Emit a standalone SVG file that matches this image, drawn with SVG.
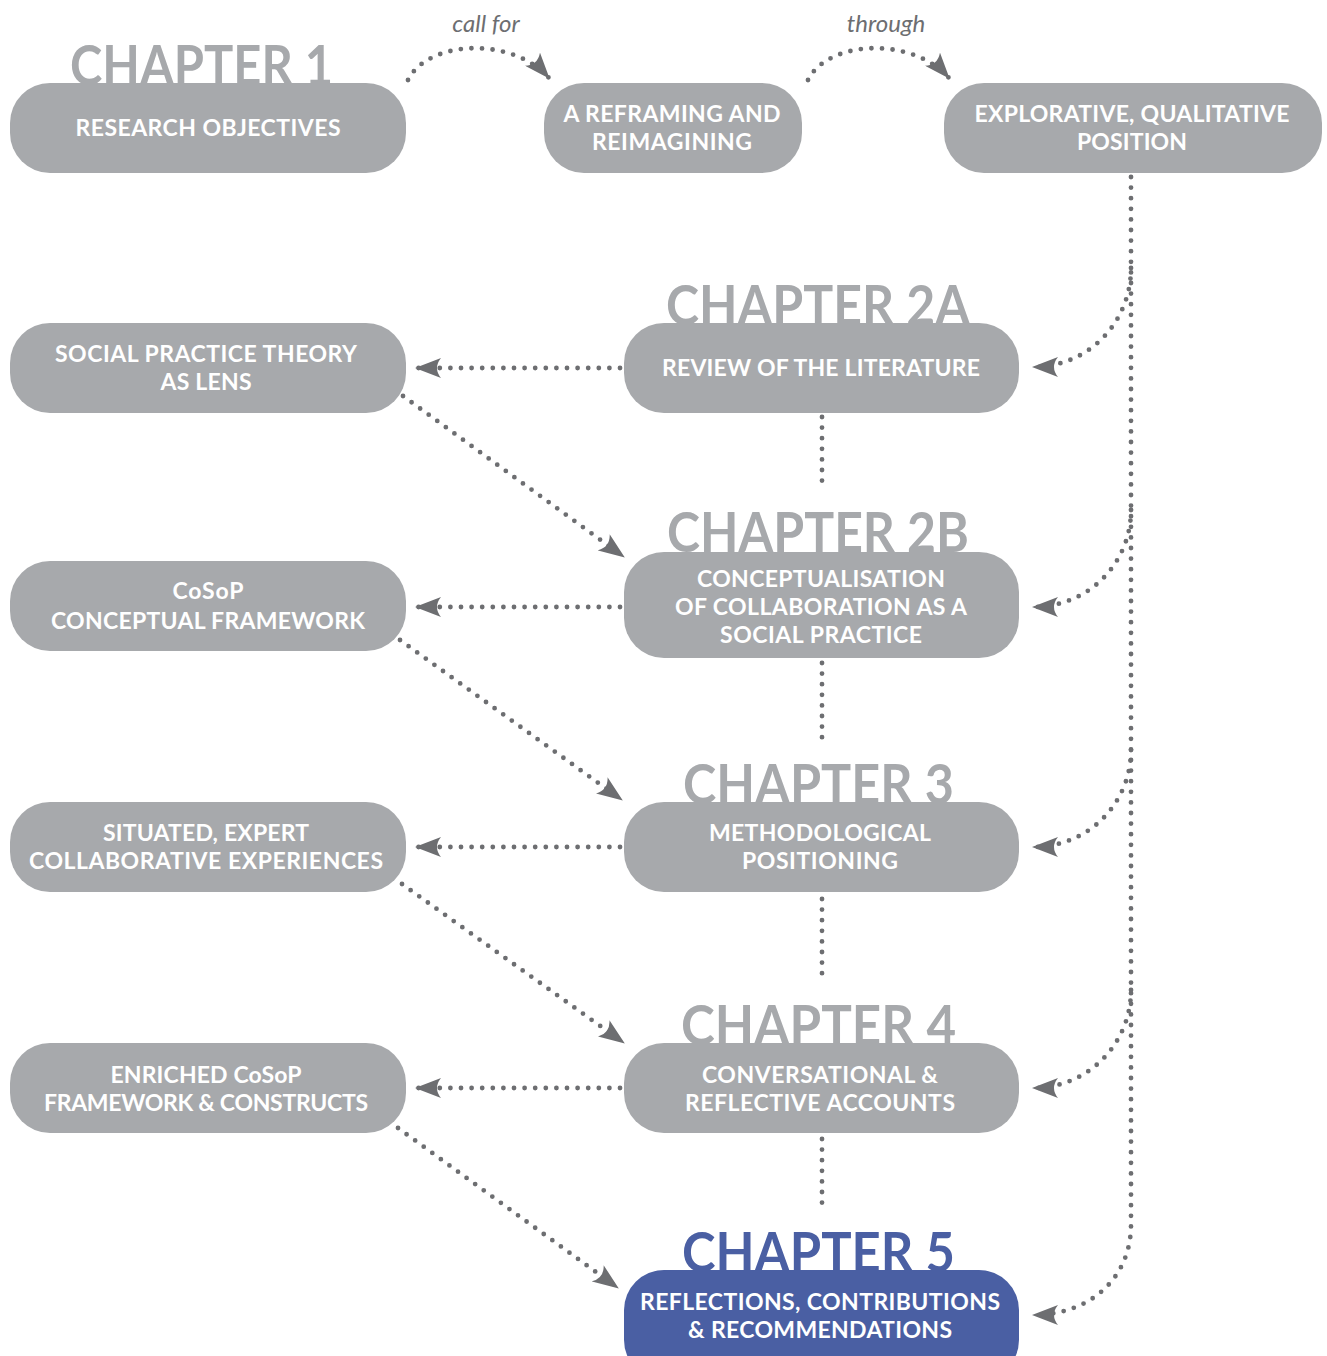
<svg xmlns="http://www.w3.org/2000/svg" width="1327" height="1356" viewBox="0 0 1327 1356">
  <defs>
    <marker id="head" markerUnits="userSpaceOnUse" viewBox="0 0 26 20" refX="25" refY="10" markerWidth="26" markerHeight="20" orient="auto">
      <path d="M0,0 L26,10 L0,20 Q8,10 0,0 Z" fill="#6d6e71"/>
    </marker>
    <style>
      .box { fill: #a7a9ac; }
      .box.final { fill: #4a5fa3; }
      .lbl { font-family: Lato, "Open Sans", sans-serif; font-weight: 700; font-size: 23px; fill: #ffffff; text-anchor: middle; }
      .chap { font-family: Lato, "Open Sans", sans-serif; font-weight: 700; font-size: 56px; fill: #a7a9ac; text-anchor: start; }
      .chap.final { fill: #4a5fa3; }
      .note { font-family: Lato, "Open Sans", sans-serif; font-style: italic; font-size: 24px; fill: #6d6e71; text-anchor: middle; }
      .dots { fill: none; stroke: #6d6e71; stroke-width: 4.8; stroke-linecap: round; stroke-dasharray: 0 10.6; }
      .arrow { marker-end: url(#head); }
    </style>
  </defs>

  <!-- chapter headings (partly covered by their boxes) -->
  <g id="chapter-headings">
    <text class="chap" x="70" y="85" textLength="263" lengthAdjust="spacingAndGlyphs">CHAPTER 1</text>
    <text class="chap" x="666" y="325" textLength="304" lengthAdjust="spacingAndGlyphs">CHAPTER 2A</text>
    <text class="chap" x="667" y="552" textLength="302" lengthAdjust="spacingAndGlyphs">CHAPTER 2B</text>
    <text class="chap" x="683" y="804" textLength="271" lengthAdjust="spacingAndGlyphs">CHAPTER 3</text>
    <text class="chap" x="681" y="1045" textLength="275" lengthAdjust="spacingAndGlyphs">CHAPTER 4</text>
    <text class="chap final" x="682" y="1272" textLength="273" lengthAdjust="spacingAndGlyphs">CHAPTER 5</text>
  </g>

  <!-- connectors -->
  <g id="connectors">
    <!-- top row -->
    <path class="dots arrow" d="M408,80 C428,40 512,36 549,78"/>
    <path class="dots arrow" d="M808,80 C828,40 912,36 949,78"/>
    <text class="note" x="486" y="32">call for</text>
    <text class="note" x="886" y="32">through</text>

    <!-- right spine with branches -->
    <path class="dots arrow" d="M1131,177 V1225 C1131,1278 1090,1315 1033,1315"/>
    <path class="dots arrow" d="M1131,268 C1131,322 1089,367 1033,367"/>
    <path class="dots arrow" d="M1131,510 C1131,563 1089,607 1033,607"/>
    <path class="dots arrow" d="M1131,750 C1131,803 1089,847 1033,847"/>
    <path class="dots arrow" d="M1131,990 C1131,1043 1089,1088 1033,1088"/>

    <!-- chapter to outcome (leftwards) -->
    <path class="dots arrow" d="M620,368 L416,368"/>
    <path class="dots arrow" d="M620,607 L416,607"/>
    <path class="dots arrow" d="M620,847 L416,847"/>
    <path class="dots arrow" d="M620,1088 L416,1088"/>

    <!-- outcome to next chapter (diagonals) -->
    <path class="dots arrow" d="M403,396 L624,557"/>
    <path class="dots arrow" d="M400,640 L622,800"/>
    <path class="dots arrow" d="M402,884 L624,1043"/>
    <path class="dots arrow" d="M398,1128 L618,1288"/>

    <!-- chapter to chapter (vertical) -->
    <path class="dots" d="M822,417 V490"/>
    <path class="dots" d="M822,663 V740"/>
    <path class="dots" d="M822,899 V975"/>
    <path class="dots" d="M822,1139 V1205"/>
  </g>

  <!-- nodes -->
  <g id="research-objectives">
    <rect class="box" x="10" y="83" width="396" height="90" rx="40"/>
    <text class="lbl" x="208" y="136" textLength="265">RESEARCH OBJECTIVES</text>
  </g>
  <g id="reframing">
    <rect class="box" x="544" y="83" width="258" height="90" rx="40"/>
    <text class="lbl" x="672" y="122" textLength="217">A REFRAMING AND</text>
    <text class="lbl" x="672" y="150" textLength="160">REIMAGINING</text>
  </g>
  <g id="explorative-position">
    <rect class="box" x="944" y="83" width="378" height="90" rx="40"/>
    <text class="lbl" x="1132" y="122" textLength="315">EXPLORATIVE, QUALITATIVE</text>
    <text class="lbl" x="1132" y="150" textLength="110">POSITION</text>
  </g>

  <g id="social-practice-theory">
    <rect class="box" x="10" y="323" width="396" height="90" rx="40"/>
    <text class="lbl" x="206" y="362" textLength="302">SOCIAL PRACTICE THEORY</text>
    <text class="lbl" x="206" y="390" textLength="91">AS LENS</text>
  </g>
  <g id="literature-review">
    <rect class="box" x="624" y="323" width="395" height="90" rx="40"/>
    <text class="lbl" x="821" y="376" textLength="318">REVIEW OF THE LITERATURE</text>
  </g>

  <g id="cosop-framework">
    <rect class="box" x="10" y="561" width="396" height="90" rx="40"/>
    <text class="lbl" x="208" y="599" textLength="71">CoSoP</text>
    <text class="lbl" x="208" y="629" textLength="314">CONCEPTUAL FRAMEWORK</text>
  </g>
  <g id="conceptualisation">
    <rect class="box" x="624" y="552" width="395" height="106" rx="40"/>
    <text class="lbl" x="821" y="587" textLength="248">CONCEPTUALISATION</text>
    <text class="lbl" x="821" y="615" textLength="292">OF COLLABORATION AS A</text>
    <text class="lbl" x="821" y="643" textLength="202">SOCIAL PRACTICE</text>
  </g>

  <g id="situated-experiences">
    <rect class="box" x="10" y="802" width="396" height="90" rx="40"/>
    <text class="lbl" x="206" y="841" textLength="206">SITUATED, EXPERT</text>
    <text class="lbl" x="206" y="869" textLength="354">COLLABORATIVE EXPERIENCES</text>
  </g>
  <g id="methodological-positioning">
    <rect class="box" x="624" y="802" width="395" height="90" rx="40"/>
    <text class="lbl" x="820" y="841" textLength="222">METHODOLOGICAL</text>
    <text class="lbl" x="820" y="869" textLength="156">POSITIONING</text>
  </g>

  <g id="enriched-framework">
    <rect class="box" x="10" y="1043" width="396" height="90" rx="40"/>
    <text class="lbl" x="206" y="1083" textLength="191">ENRICHED CoSoP</text>
    <text class="lbl" x="206" y="1111" textLength="324">FRAMEWORK &amp; CONSTRUCTS</text>
  </g>
  <g id="conversational-accounts">
    <rect class="box" x="624" y="1043" width="395" height="90" rx="40"/>
    <text class="lbl" x="820" y="1083" textLength="236">CONVERSATIONAL &amp;</text>
    <text class="lbl" x="820" y="1111" textLength="270">REFLECTIVE ACCOUNTS</text>
  </g>

  <g id="reflections">
    <rect class="box final" x="624" y="1270" width="395" height="110" rx="40"/>
    <text class="lbl" x="820" y="1310" textLength="360">REFLECTIONS, CONTRIBUTIONS</text>
    <text class="lbl" x="820" y="1338" textLength="264">&amp; RECOMMENDATIONS</text>
  </g>
</svg>
